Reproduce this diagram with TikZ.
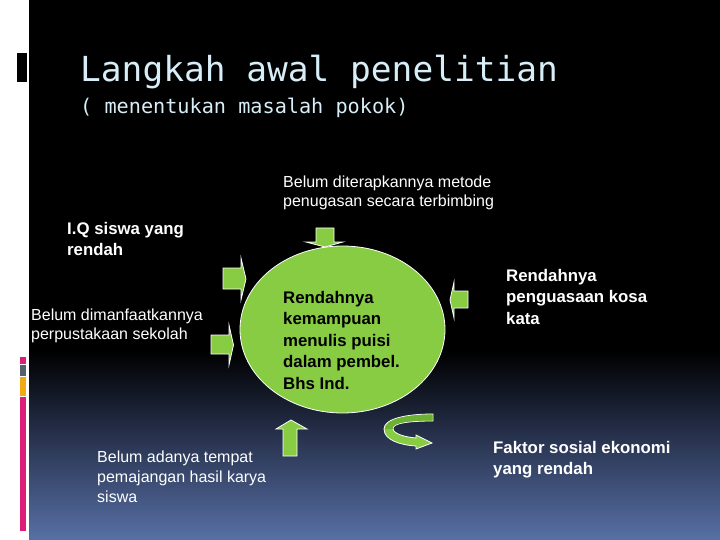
\documentclass[tikz,border=0pt]{standalone}
\usepackage{fontspec}
\setmainfont{Liberation Sans}
\newfontfamily\titlemono{DejaVu Sans Mono}
\usetikzlibrary{shapes.geometric}
\definecolor{leaf}{RGB}{136,204,68}
\definecolor{leafdark}{RGB}{108,176,52}
\definecolor{titlecol}{RGB}{215,238,248}
\definecolor{navy}{RGB}{36,46,72}
\definecolor{slate}{RGB}{88,112,165}
\definecolor{barmag}{RGB}{220,30,120}
\definecolor{bargrey}{RGB}{85,95,110}
\definecolor{barorange}{RGB}{240,170,20}
\tikzset{
  plain/.style={anchor=base west, inner sep=0pt, text=white, font=\fontsize{16}{19}\selectfont},
  heavy/.style={anchor=base west, inner sep=0pt, text=white, font=\fontsize{16.8}{21}\selectfont\bfseries},
  inner/.style={anchor=base west, inner sep=0pt, text=black, font=\fontsize{16.8}{21}\selectfont\bfseries},
  blockarrow/.style={fill=leaf, draw=white, line width=0.8pt, line join=miter}
}
\begin{document}
\begin{tikzpicture}[x=1pt,y=-1pt]
\useasboundingbox (0,0) rectangle (720,540);
% background
\fill[white] (0,0) rectangle (720,540);
\fill[black] (29,0) rectangle (720,352);
\shade[top color=black, bottom color=navy] (29,351) rectangle (720,431);
\shade[top color=navy, bottom color=slate] (29,430) rectangle (720,540);
% left decorations
\fill[black] (17,53) rectangle (27,82);
\fill[barmag] (20,357) rectangle (26,364);
\fill[bargrey] (20,365) rectangle (26,376);
\fill[barorange] (20,377) rectangle (26,396);
\fill[barmag] (20,397) rectangle (26,531);
% title
\node (title) [anchor=base west, inner sep=0pt, text=titlecol, font=\fontsize{34.5}{40}\titlemono] at (80,82) {Langkah awal penelitian};
\node (subtitle) [anchor=base west, inner sep=0pt, text=titlecol, font=\fontsize{20.2}{24}\titlemono] at (80,114) {( menentukan masalah pokok)};
% central ellipse
\node (core) [ellipse, fill=leaf, draw=white, line width=0.8pt, minimum width=205pt, minimum height=167pt, inner sep=0pt] at (342.5,329.5) {};
\node (c1) [inner] at (283,303) {Rendahnya};
\node (c2) [inner] at (283,324.5) {kemampuan};
\node (c3) [inner] at (283,346) {menulis puisi};
\node (c4) [inner] at (283,367.5) {dalam pembel.};
\node (c5) [inner] at (283,389) {Bhs Ind.};
% block arrows
\draw[blockarrow] (316,228) -- (334,228) -- (334,242) -- (343,242) -- (325,247) -- (306,242) -- (316,242) -- cycle;
\draw[blockarrow] (223,268) -- (241,268) -- (241,258) -- (246,279) -- (241,300) -- (241,289) -- (223,289) -- cycle;
\draw[blockarrow] (211,335) -- (229,335) -- (229,325) -- (233.5,345) -- (229,365) -- (229,354) -- (211,354) -- cycle;
\draw[blockarrow] (468,291) -- (454,291) -- (454,282) -- (450,300) -- (454,318) -- (454,308) -- (468,308) -- cycle;
\draw[blockarrow] (283,456) -- (283,429) -- (276,429) -- (291,420) -- (307,429) -- (297,429) -- (297,456) -- cycle;
% curved arrow
\draw[blockarrow] (433,414) -- (433,421) .. controls (410,421) and (392,423) .. (393,429) .. controls (394,434) and (405,437) .. (416,438) -- (416,435) -- (432,443) -- (416,449) -- (416,446) .. controls (400,445) and (384,440) .. (384,429) .. controls (384,419) and (405,414) .. (433,414) -- cycle;
\fill[leafdark] (432.5,414.5) -- (432.5,420.5) .. controls (410,420.5) and (392,422.5) .. (392.5,429) -- (385,429) .. controls (385,419.5) and (405,414.5) .. (432.5,414.5) -- cycle;
% labels
\node (t1a) [plain] at (283,188) {Belum diterapkannya metode};
\node (t1b) [plain] at (283,207) {penugasan secara terbimbing};
\node (t2a) [heavy] at (67,234) {I.Q siswa yang};
\node (t2b) [heavy] at (67,255) {rendah};
\node (t3a) [plain] at (31,320) {Belum dimanfaatkannya};
\node (t3b) [plain] at (31,339) {perpustakaan sekolah};
\node (t4a) [plain] at (97,462) {Belum adanya tempat};
\node (t4b) [plain] at (97,482) {pemajangan hasil karya};
\node (t4c) [plain] at (97,502) {siswa};
\node (t5a) [heavy] at (506,281) {Rendahnya};
\node (t5b) [heavy] at (506,302.5) {penguasaan kosa};
\node (t5c) [heavy] at (506,324) {kata};
\node (t6a) [heavy] at (493,453) {Faktor sosial ekonomi};
\node (t6b) [heavy] at (493,474.5) {yang rendah};
\end{tikzpicture}
\end{document}
